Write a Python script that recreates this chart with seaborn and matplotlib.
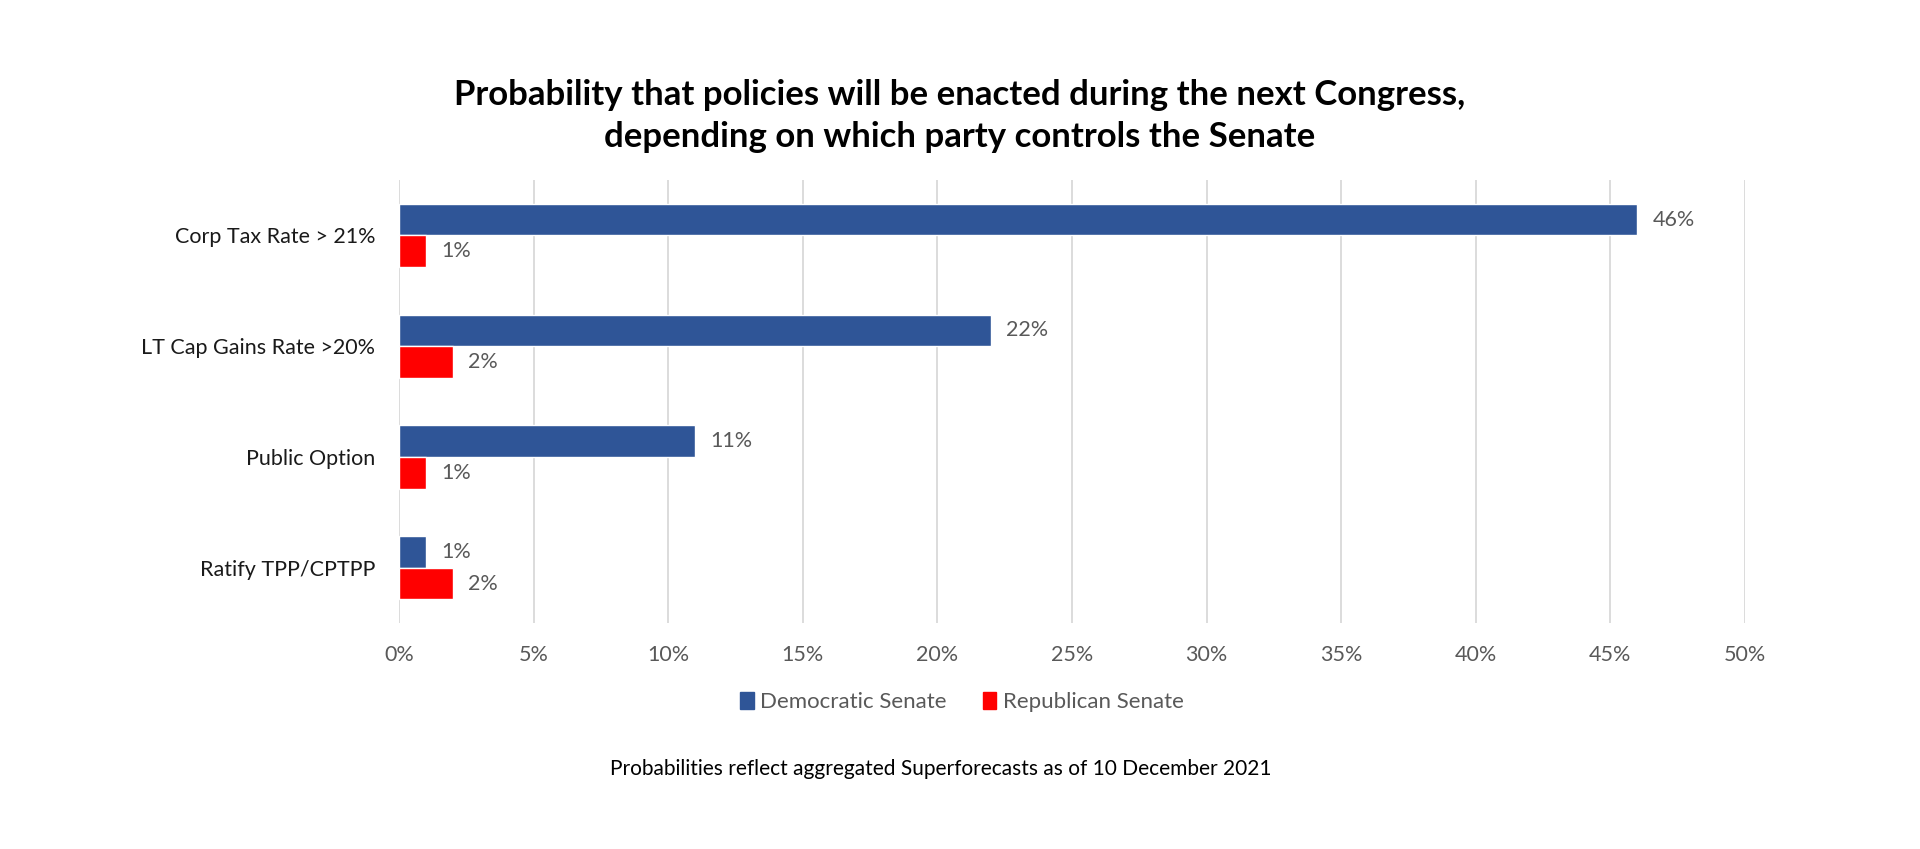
import matplotlib
matplotlib.use("Agg")
import matplotlib.pyplot as plt
import pandas as pd
import seaborn as sns

# values (percent)
policies = ["Corp Tax Rate > 21%", "LT Cap Gains Rate >20%", "Public Option", "Ratify TPP/CPTPP"]
democratic = [46, 22, 11, 1]
republican = [1, 2, 1, 2]
series = ["Democratic Senate", "Republican Senate"]
colors = ["#2F5597", "#FF0000"]
x_ticks = [0, 5, 10, 15, 20, 25, 30, 35, 40, 45, 50]

title = ("Probability that policies will be enacted during the next Congress,\n"
         "depending on which party controls the Senate")
footnote = "Probabilities reflect aggregated Superforecasts as of 10 December 2021"


def build_frame():
    rows = []
    for p, d, r in zip(policies, democratic, republican):
        rows.append({"policy": p, "party": series[0], "prob": d})
        rows.append({"policy": p, "party": series[1], "prob": r})
    return pd.DataFrame(rows)


def plot(df):
    sns.set_theme(style="white")
    plt.rcParams["font.family"] = ["Lato", "DejaVu Sans"]

    fig = plt.figure(figsize=(19.2, 8.49), dpi=100)
    ax = fig.add_axes([0.2078, 0.266, 0.701, 0.522])

    sns.barplot(data=df, y="policy", x="prob", hue="party", order=policies,
                hue_order=series, palette=colors, orient="h", width=0.57,
                saturation=1, ax=ax, legend=False)

    for cont in ax.containers:
        vals = [b.get_width() for b in cont]
        ax.bar_label(cont, labels=[f"{v:.0f}%" for v in vals], padding=11,
                     fontsize=15.5, color="#595959")

    ax.set_xlim(0, 50)
    ax.set_ylim(3.5, -0.5)
    ax.set_xticks(x_ticks)
    ax.set_xticklabels([f"{t}%" for t in x_ticks], fontsize=15.5, color="#595959")
    ax.tick_params(axis="x", length=0, pad=16)
    ax.tick_params(axis="y", length=0, pad=17, labelsize=15.5, labelcolor="#1a1a1a")
    ax.set_xlabel("")
    ax.set_ylabel("")
    ax.grid(axis="x", color="#D9D9D9", linewidth=1.3)
    ax.set_axisbelow(True)
    for s in ax.spines.values():
        s.set_visible(False)

    handles = [plt.Rectangle((0, 0), 1, 1, color=c) for c in colors]
    fig.legend(handles, series, loc="center", bbox_to_anchor=(0.501, 1 - 702 / 849),
               ncol=2, frameon=False, fontsize=16, handlelength=0.6, handleheight=0.8,
               handletextpad=0.3, columnspacing=1.6, labelcolor="#595959")

    fig.text(0.5, 1 - 116 / 849, title, ha="center", va="center", fontsize=25,
             fontweight="bold", color="black", linespacing=1.4)
    fig.text(0.49, 1 - 769 / 849, footnote, ha="center", va="center", fontsize=15,
             color="black")

    fig.savefig("out.png", dpi=100, facecolor="white")


def main():
    df = build_frame()
    plot(df)


if __name__ == "__main__":
    main()
